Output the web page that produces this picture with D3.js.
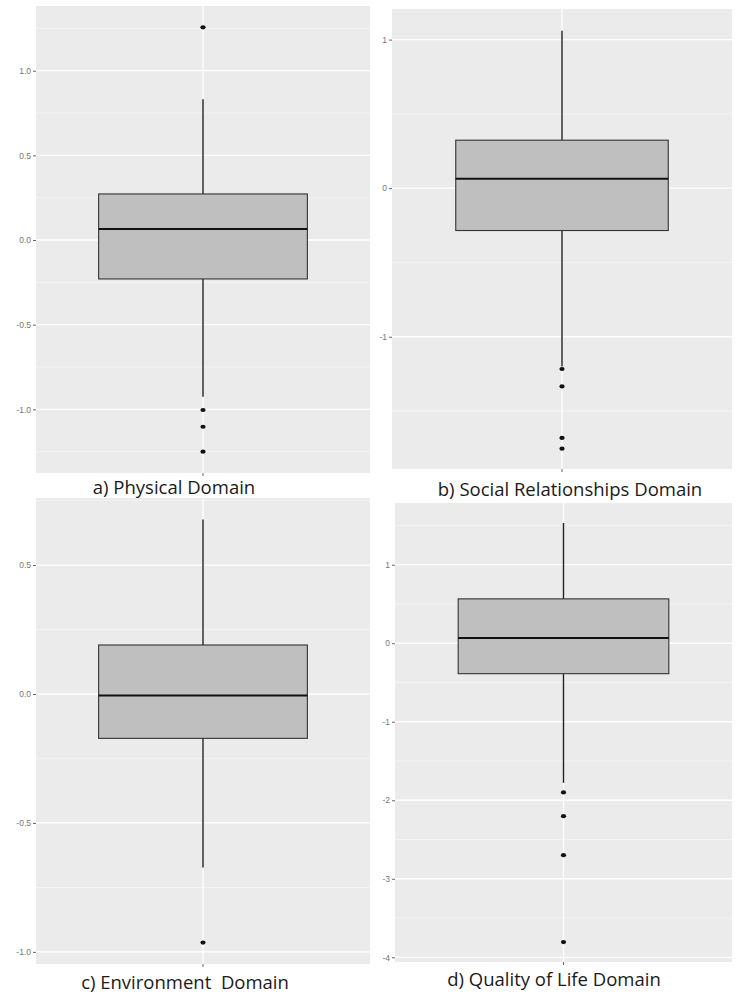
<!DOCTYPE html>
<html>
<head>
<meta charset="utf-8">
<script src="https://cdn.jsdelivr.net/npm/d3@7"></script>
<style>
  body { margin: 0; background: #fff; }
  svg { display: block; }
  .tick text { font-family: "Liberation Sans", Arial, sans-serif; }
</style>
</head>
<body>
<div id="chart"></div>
<script>
// values
var titles = ["a) Physical Domain", "b) Social Relationships Domain", "c) Environment  Domain", "d) Quality of Life Domain"];
var q1 = [-0.230, -0.285, -0.172, -0.388];
var medians = [0.065, 0.063, -0.006, 0.068];
var q3 = [0.272, 0.323, 0.190, 0.565];
var whiskLow = [-0.925, -1.200, -0.673, -1.778];
var whiskHigh = [0.831, 1.060, 0.677, 1.531];
var outliers = [
  [1.256, -1.004, -1.103, -1.250],
  [-1.217, -1.334, -1.681, -1.753],
  [-0.964],
  [-1.900, -2.203, -2.700, -3.806]
];
var yDomains = [[-1.376, 1.382], [-1.890, 1.206], [-1.047, 0.760], [-4.06, 1.786]];
var tickVals = [
  [-1.0, -0.5, 0.0, 0.5, 1.0],
  [-1, 0, 1],
  [-1.0, -0.5, 0.0, 0.5],
  [-4, -3, -2, -1, 0, 1]
];
var tickFormats = [".1f", "d", ".1f", "d"];

// panel boxes on the page
var frames = [
  {x0: 36, x1: 370, y0: 6, y1: 473, tx: 174, ty: 494},
  {x0: 392, x1: 732, y0: 9, y1: 469, tx: 570, ty: 496},
  {x0: 36, x1: 370, y0: 498, y1: 964, tx: 185, ty: 989},
  {x0: 395, x1: 732, y0: 503, y1: 962, tx: 554, ty: 986}
];

var W = 739, H = 999;
var svg = d3.select("#chart").append("svg").attr("width", W).attr("height", H);

frames.forEach(function(f, i){
  var g = svg.append("g");
  var y = d3.scaleLinear().domain(yDomains[i]).range([f.y1, f.y0]);
  var x = d3.scaleBand().domain(["1"]).range([f.x0, f.x1]).paddingInner(0).paddingOuter(0.3);

  g.append("rect")
    .attr("x", f.x0).attr("y", f.y0)
    .attr("width", f.x1 - f.x0).attr("height", f.y1 - f.y0)
    .attr("fill", "#ebebeb");

  // minor grid halfway between major ticks
  var tv = tickVals[i];
  var step = tv[1] - tv[0];
  var minors = [];
  for (var k = 0; k <= tv.length; k++) {
    var m = tv[0] - step / 2 + k * step;
    if (m > yDomains[i][0] && m < yDomains[i][1]) minors.push(m);
  }
  g.selectAll(".minor").data(minors).enter().append("line")
    .attr("x1", f.x0).attr("x2", f.x1)
    .attr("y1", function(d){ return y(d); }).attr("y2", function(d){ return y(d); })
    .attr("stroke", "#f5f5f5").attr("stroke-width", 0.8);

  g.selectAll(".major").data(tv).enter().append("line")
    .attr("x1", f.x0).attr("x2", f.x1)
    .attr("y1", function(d){ return y(d); }).attr("y2", function(d){ return y(d); })
    .attr("stroke", "#ffffff").attr("stroke-width", 1.3);

  var cx = x("1") + x.bandwidth() / 2;
  g.append("line")
    .attr("x1", cx).attr("x2", cx).attr("y1", f.y0).attr("y2", f.y1)
    .attr("stroke", "#ffffff").attr("stroke-width", 1.3);

  // y axis
  var fmt = d3.format(tickFormats[i]);
  var ax = g.append("g")
    .attr("transform", "translate(" + f.x0 + ",0)")
    .call(d3.axisLeft(y).tickValues(tv)
      .tickFormat(function(d){ return fmt(d).replace("\u2212", "-"); })
      .tickSize(3).tickPadding(2));
  ax.select(".domain").remove();
  ax.selectAll(".tick line").attr("stroke", "#666");
  ax.selectAll(".tick text").attr("fill", "#777").attr("font-size", 8.5);

  // x tick at centre
  g.append("line")
    .attr("x1", cx).attr("x2", cx).attr("y1", f.y1).attr("y2", f.y1 + 3)
    .attr("stroke", "#666").attr("stroke-width", 1);

  // whiskers
  g.append("line")
    .attr("x1", cx).attr("x2", cx).attr("y1", y(q3[i])).attr("y2", y(whiskHigh[i]))
    .attr("stroke", "#222").attr("stroke-width", 1.4);
  g.append("line")
    .attr("x1", cx).attr("x2", cx).attr("y1", y(q1[i])).attr("y2", y(whiskLow[i]))
    .attr("stroke", "#222").attr("stroke-width", 1.4);

  // box
  g.append("rect")
    .attr("x", x("1")).attr("width", x.bandwidth())
    .attr("y", y(q3[i])).attr("height", y(q1[i]) - y(q3[i]))
    .attr("fill", "#bfbfbf").attr("stroke", "#333").attr("stroke-width", 1.1);
  g.append("line")
    .attr("x1", x("1")).attr("x2", x("1") + x.bandwidth())
    .attr("y1", y(medians[i])).attr("y2", y(medians[i]))
    .attr("stroke", "#111").attr("stroke-width", 2);

  g.selectAll(".out").data(outliers[i]).enter().append("ellipse")
    .attr("cx", cx).attr("cy", function(d){ return y(d); })
    .attr("rx", 2.6).attr("ry", 2.1)
    .attr("fill", "#111");

  svg.append("text")
    .attr("x", f.tx).attr("y", f.ty)
    .attr("text-anchor", "middle")
    .attr("font-family", "'Open Sans', sans-serif")
    .attr("font-size", 18.5)
    .attr("fill", "#1a1a1a")
    .style("white-space", "pre")
    .text(titles[i]);
});
</script>
</body>
</html>
